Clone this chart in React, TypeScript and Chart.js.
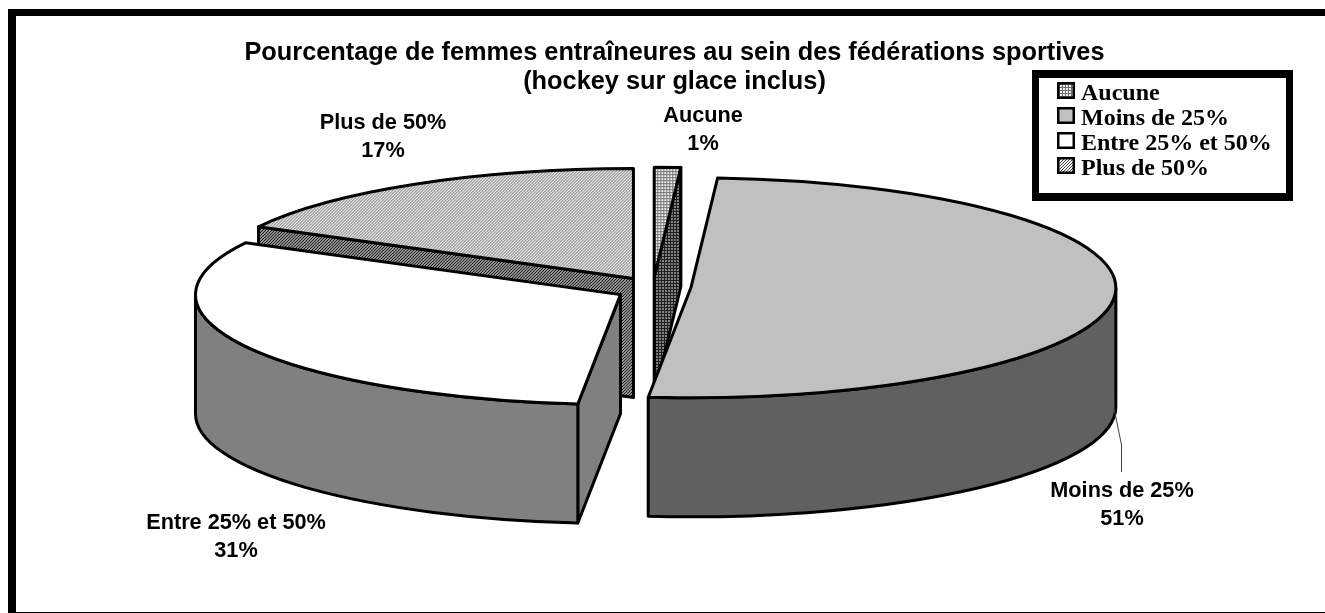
import React, { useEffect, useRef } from "react";
import { Chart, registerables } from "chart.js";

Chart.register(...registerables);

const titleLines = [
  "Pourcentage de femmes entraîneures au sein des fédérations sportives",
  "(hockey sur glace inclus)",
];
const categories = ["Aucune", "Moins de 25%", "Entre 25% et 50%", "Plus de 50%"];
const shares = [1.0, 50.6, 31.2, 17.2];
const topColors = ["", "#C0C0C0", "#FFFFFF", ""];
const wallColors = ["", "#606060", "#808080", ""];
const labelCentres = [
  [695, 108],
  [1114, 483],
  [228, 515],
  [375, 115],
];
const drawOrder = [3, 0, 1, 2];
const nudgeX = [0, 0, 1, 0];
const nudgeY = [0, 0, 3, 0];

const CANVAS_W = 1333;
const CANVAS_H = 605;
const PIE_SHIFT_X = -21.5;
const RX = 425;
const RY = 110;
const DEPTH = 119;
const EXPLODE = 38;
const EDGE = 3;
const LEGEND_PITCH = 25;

function tile(size: number, paint: (c: CanvasRenderingContext2D) => void) {
  const cv = document.createElement("canvas");
  cv.width = size;
  cv.height = size;
  paint(cv.getContext("2d")!);
  return cv;
}
function gridTile(light: string, dark: string) {
  return tile(3, (c) => {
    c.fillStyle = light;
    c.fillRect(0, 0, 3, 3);
    c.fillStyle = dark;
    c.fillRect(2, 0, 1, 3);
    c.fillRect(0, 2, 3, 1);
  });
}
function diagTile(light: string, dark: string) {
  return tile(3, (c) => {
    c.fillStyle = light;
    c.fillRect(0, 0, 3, 3);
    c.fillStyle = dark;
    for (let i = 0; i < 3; i++) c.fillRect(i, 2 - i, 1, 1);
  });
}
function swatch(fill: (c: CanvasRenderingContext2D) => void) {
  const cv = document.createElement("canvas");
  cv.width = 18;
  cv.height = 17;
  const c = cv.getContext("2d")!;
  fill(c);
  c.fillRect(0, 0, 18, 17);
  c.strokeStyle = "#000";
  c.lineWidth = 2.5;
  c.strokeRect(1.25, 1.25, 15.5, 14.5);
  return cv;
}

export default function App() {
  const ref = useRef<HTMLCanvasElement>(null);
  useEffect(() => {
    document.documentElement.style.overflow = "hidden";
    document.body.style.margin = "8px 0 0 8px";
    const canvas = ref.current!;
    const g = canvas.getContext("2d")!;
    const tiles = {
      aucuneTop: gridTile("#F0F0F0", "#707070"),
      aucuneWall: gridTile("#808080", "#202020"),
      plusTop: diagTile("#FFFFFF", "#404040"),
      plusWall: diagTile("#909090", "#202020"),
    };
    const pat = (t: HTMLCanvasElement) => g.createPattern(t, "repeat")!;
    const aucuneTop = pat(tiles.aucuneTop);
    const plusTop = pat(tiles.plusTop);
    const tops: any[] = [aucuneTop, topColors[1], topColors[2], plusTop];
    const walls: any[] = [pat(tiles.aucuneWall), wallColors[1], wallColors[2], pat(tiles.plusWall)];
    const swatches = [
      swatch((c) => (c.fillStyle = c.createPattern(tiles.aucuneTop, "repeat")!)),
      swatch((c) => (c.fillStyle = topColors[1])),
      swatch((c) => (c.fillStyle = topColors[2])),
      swatch((c) => (c.fillStyle = c.createPattern(tiles.plusTop, "repeat")!)),
    ];

    const framePlugin = {
      id: "frame",
      beforeDraw(chart: any) {
        const c = chart.ctx;
        c.save();
        c.fillStyle = "#000";
        c.fillRect(0, 1, 8, CANVAS_H);
        c.fillRect(0, 1, CANVAS_W, 7);
        c.fillRect(0, CANVAS_H - 1, CANVAS_W, 1);
        // legend frame
        c.fillRect(1024, 62, 261, 131);
        c.fillStyle = "#FFF";
        c.fillRect(1031, 70, 247, 115);
        c.restore();
      },
    };

    const pie3d = {
      id: "pie3d",
      afterLayout(chart: any) {
        const l = chart.legend;
        const w = l.width, h = l.height;
        l.left = 1049;
        l.top = 73;
        l.right = l.left + w + 40;
        l.bottom = l.top + h;
      },
      beforeDatasetsDraw(chart: any) {
        const c: CanvasRenderingContext2D = chart.ctx;
        const arcs = chart.getDatasetMeta(0).data;
        const R = arcs[0].outerRadius;
        const sx = RX / R;
        const sy = RY / R;
        const m = new DOMMatrix().scale(1 / sx, 1 / sy);
        aucuneTop.setTransform(m);
        plusTop.setTransform(m);
        c.save();
        c.lineJoin = "round";
        c.lineWidth = EDGE;
        c.strokeStyle = "#000";
        for (const i of drawOrder) {
          const a = arcs[i];
          const s = a.startAngle;
          const e = a.endAngle;
          const mid = (s + e) / 2;
          const cx = a.x + PIE_SHIFT_X + EXPLODE * Math.cos(mid) + nudgeX[i];
          const cy = a.y + EXPLODE * (RY / RX) * Math.sin(mid) + nudgeY[i];
          const px = (t: number) => cx + RX * Math.cos(t);
          const py = (t: number) => cy + RY * Math.sin(t);
          c.fillStyle = walls[i];
          const radial = (t: number) => {
            c.beginPath();
            c.moveTo(cx, cy);
            c.lineTo(px(t), py(t));
            c.lineTo(px(t), py(t) + DEPTH);
            c.lineTo(cx, cy + DEPTH);
            c.closePath();
            c.fill();
            c.stroke();
          };
          // radial faces turned towards the viewer (screen-angle test)
          if (Math.cos(s) < -1e-6) radial(s);
          if (Math.cos(e) > 1e-6) radial(e);
          // curved front wall
          let ns = s % (2 * Math.PI);
          if (ns < 0) ns += 2 * Math.PI;
          const ne = ns + (e - s);
          for (const base of [0, 2 * Math.PI]) {
            const from = Math.max(ns, base);
            const to = Math.min(ne, base + Math.PI);
            if (to > from) {
              c.beginPath();
              c.ellipse(cx, cy, RX, RY, 0, from, to);
              c.lineTo(px(to), py(to) + DEPTH);
              c.ellipse(cx, cy + DEPTH, RX, RY, 0, to, from, true);
              c.closePath();
              c.fill();
              c.stroke();
            }
          }
          // top face, through the library's own arc element
          c.save();
          c.translate(cx, cy);
          c.scale(sx, sy);
          c.translate(-a.x, -a.y);
          a.draw(c);
          c.restore();
          c.beginPath();
          c.moveTo(cx, cy);
          c.ellipse(cx, cy, RX, RY, 0, s, e);
          c.closePath();
          c.stroke();
        }
        c.restore();
        return false;
      },
      afterDraw(chart: any) {
        const c: CanvasRenderingContext2D = chart.ctx;
        const total = shares.reduce((p, v) => p + v, 0);
        c.save();
        swatches.forEach((img, i) => c.drawImage(img, 1049, 74 + i * LEGEND_PITCH));
        c.fillStyle = "#000";
        c.font = "bold 21.7px 'Liberation Sans'";
        c.textAlign = "center";
        c.textBaseline = "middle";
        categories.forEach((name, i) => {
          const [x, y] = labelCentres[i];
          c.fillText(name, x, y);
          c.fillText(Math.round((shares[i] / total) * 100) + "%", x, y + 28);
        });
        c.strokeStyle = "#404040";
        c.lineWidth = 1;
        c.beginPath();
        c.moveTo(1106, 400);
        c.lineTo(1113.5, 437);
        c.lineTo(1113.5, 464);
        c.stroke();
        c.restore();
      },
    };

    const chart = new Chart(canvas, {
      type: "pie",
      data: {
        labels: categories,
        datasets: [{ data: shares, backgroundColor: tops, borderWidth: 0 }],
      },
      options: {
        animation: false,
        responsive: false,
        events: [],
        layout: { padding: { left: 0, right: 0, top: 0, bottom: 140 } },
        plugins: {
          tooltip: { enabled: false },
          title: {
            display: true,
            text: titleLines,
            color: "#000",
            font: { family: "'Liberation Sans'", size: 25.33, weight: "bold", lineHeight: 1.145 },
            padding: { top: 31, bottom: 4 },
          },
          legend: {
            display: true,
            position: "chartArea",
            align: "start",
            labels: {
              boxWidth: 11,
              boxHeight: 11,
              padding: 1,
              color: "#000",
              font: { family: "'Liberation Serif'", size: 24, weight: "bold", lineHeight: 1.2 },
              generateLabels: () =>
                categories.map((text, i) => ({
                  text,
                  fillStyle: "rgba(0,0,0,0)",
                  strokeStyle: "rgba(0,0,0,0)",
                  lineWidth: 0,
                  fontColor: "#000",
                  hidden: false,
                  index: i,
                })),
            },
          },
        },
      } as any,
      plugins: [framePlugin, pie3d] as any,
    });
    return () => chart.destroy();
  }, []);
  return (
    <canvas
      ref={ref}
      width={CANVAS_W}
      height={CANVAS_H}
      style={{ display: "block", width: CANVAS_W, height: CANVAS_H }}
    />
  );
}
